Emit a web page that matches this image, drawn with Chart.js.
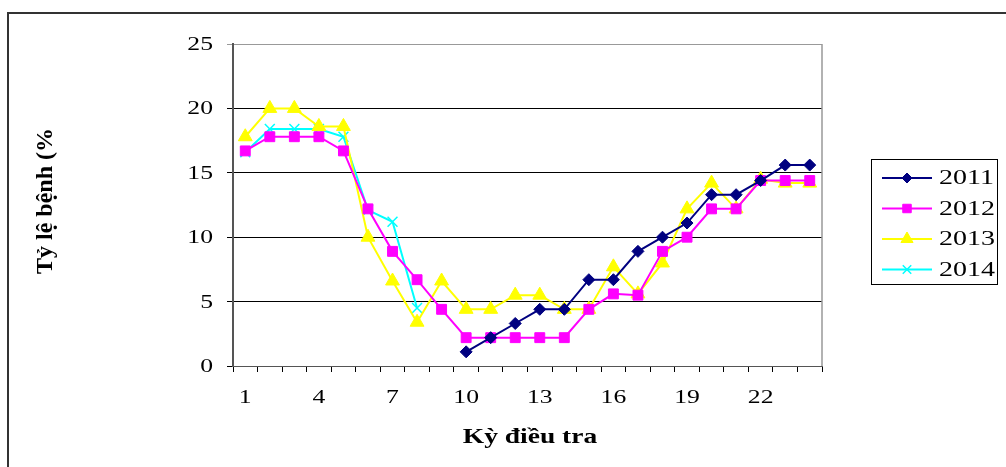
<!DOCTYPE html>
<html>
<head>
<meta charset="utf-8">
<script src="https://cdn.jsdelivr.net/npm/chart.js@4/dist/chart.umd.min.js"></script>
<style>
  html, body { margin: 0; padding: 0; background: #fff; }
  #wrap { width: 1006px; height: 467px; position: relative; }
</style>
</head>
<body>
<div id="wrap"><canvas id="myChart" width="1006" height="467"></canvas></div>
<script>
// survey periods 1..24
const periods = [];
for (let i = 1; i <= 24; i++) periods.push(String(i));

const years = ["2011", "2012", "2013", "2014"];

const rate2011 = [null, null, null, null, null, null, null, null, null,
  1.1, 2.2, 3.3, 4.4, 4.4, 6.7, 6.7, 8.9, 10, 11.1, 13.3, 13.3, 14.4, 15.6, 15.6];
const rate2012 = [16.7, 17.8, 17.8, 17.8, 16.7, 12.2, 8.9, 6.7, 4.4, 2.2, 2.2, 2.2,
  2.2, 2.2, 4.4, 5.6, 5.5, 8.9, 10, 12.2, 12.2, 14.4, 14.4, 14.4];
const rate2013 = [17.8, 20, 20, 18.6, 18.6, 10, 6.6, 3.4, 6.6, 4.4, 4.4, 5.5,
  5.5, 4.4, 4.4, 7.7, 5.6, 8, 12.2, 14.2, 12.2, 14.5, 14.2, 14.2];
const rate2014 = [16.6, 18.4, 18.4, 18.4, 17.8, 12.1, 11.2, 4.5, null, null, null, null,
  null, null, null, null, null, null, null, null, null, null, null, null];

const yTicks = [0, 5, 10, 15, 20, 25];

const serif = "'Liberation Serif', 'DejaVu Serif', serif";

// text drawn a bit wider than the font, like the old office export
function wideText(c, txt, x, y, sx, align) {
  c.save();
  c.translate(x, y);
  c.scale(sx, 1);
  c.textAlign = align;
  c.fillText(txt, 0, 0);
  c.restore();
}

// outer frame, tick labels, axis titles and the boxed legend on the right
const extras = {
  id: 'extras',
  afterDraw(chart) {
    const c = chart.ctx;
    const xs = chart.scales.x, ys = chart.scales.y;
    c.save();
    c.strokeStyle = '#333';
    c.lineWidth = 2;
    c.strokeRect(8, 13, 1010, 470);

    c.fillStyle = '#000';
    c.textBaseline = 'middle';
    c.font = "19px " + serif;
    yTicks.forEach(v => wideText(c, String(v), 213, ys.getPixelForValue(v) + 1, 1.35, 'right'));
    periods.forEach((p, i) => {
      if (i % 3 === 0) wideText(c, p, xs.getPixelForValue(i), 398, 1.35, 'center');
    });

    c.font = "bold 22px " + serif;
    wideText(c, 'Kỳ điều tra', 530, 437, 1.25, 'center');
    c.font = "bold 24px " + serif;
    c.translate(46, 201);
    c.rotate(-Math.PI / 2);
    c.textAlign = 'center';
    c.fillText('Tỷ lệ bệnh (%', 0, 0);
    c.restore();

    // legend
    c.save();
    c.strokeStyle = '#000';
    c.lineWidth = 1;
    c.strokeRect(871.5, 159.5, 126, 125);
    c.font = "20px " + serif;
    c.textBaseline = 'middle';
    chart.data.datasets.forEach((ds, i) => {
      const y = 178 + i * 30.5;
      c.strokeStyle = ds.borderColor;
      c.fillStyle = ds.backgroundColor;
      c.lineWidth = 2;
      c.beginPath();
      c.moveTo(882, y);
      c.lineTo(932, y);
      c.stroke();
      c.lineWidth = ds.pointBorderWidth;
      Chart.helpers.drawPoint(c, {
        pointStyle: ds.pointStyle,
        radius: ds.pointRadius - 1,
        borderWidth: ds.pointBorderWidth
      }, 907, y);
      c.fillStyle = '#000';
      wideText(c, ds.label, 939, y + 1, 1.4, 'left');
    });
    c.restore();
  },
  afterDatasetsDraw(ch) {
    // right edge of the plot area
    const a = ch.chartArea;
    ch.ctx.save();
    ch.ctx.strokeStyle = '#999';
    ch.ctx.lineWidth = 1.5;
    ch.ctx.beginPath();
    ch.ctx.moveTo(a.right, a.top);
    ch.ctx.lineTo(a.right, a.bottom);
    ch.ctx.stroke();
    ch.ctx.restore();
  }
};

function makeSet(label, data, color, style, radius) {
  return {
    label: label,
    data: data,
    borderColor: color,
    backgroundColor: color,
    borderWidth: 2,
    pointStyle: style,
    pointRadius: radius,
    pointHoverRadius: radius,
    pointBorderColor: color,
    pointBackgroundColor: color,
    pointBorderWidth: style === 'crossRot' ? 1.5 : 1,
    tension: 0,
    spanGaps: false
  };
}

const ctx = document.getElementById('myChart').getContext('2d');
const chart = new Chart(ctx, {
  type: 'line',
  data: {
    labels: periods,
    datasets: [
      makeSet(years[0], rate2011, '#000080', 'rectRot', 6),
      makeSet(years[1], rate2012, '#ff00ff', 'rect', 7),
      makeSet(years[2], rate2013, '#ffff00', 'triangle', 8),
      makeSet(years[3], rate2014, '#00ffff', 'crossRot', 7)
    ]
  },
  options: {
    responsive: false,
    animation: false,
    layout: { padding: { left: 0, top: 44, right: 184, bottom: 0 } },
    plugins: {
      legend: { display: false },
      tooltip: { enabled: false }
    },
    scales: {
      x: {
        type: 'category',
        offset: true,
        grid: {
          offset: true,
          drawOnChartArea: false,
          drawTicks: true,
          tickLength: 6,
          color: '#000'
        },
        border: { color: '#555', width: 1 },
        ticks: { display: false, autoSkip: false, maxRotation: 0 },
        afterFit(scale) { scale.height = 101; }
      },
      y: {
        min: 0,
        max: 25,
        afterBuildTicks(scale) {
          scale.ticks = yTicks.map(v => ({ value: v }));
        },
        grid: {
          color: (c) => c.tick && c.tick.value === 25 ? '#999' : '#000',
          lineWidth: 1,
          drawTicks: true,
          tickLength: 6
        },
        border: { color: '#555', width: 2 },
        ticks: { display: false },
        afterFit(scale) { scale.width = 233; }
      }
    }
  },
  plugins: [extras]
});
</script>
</body>
</html>
